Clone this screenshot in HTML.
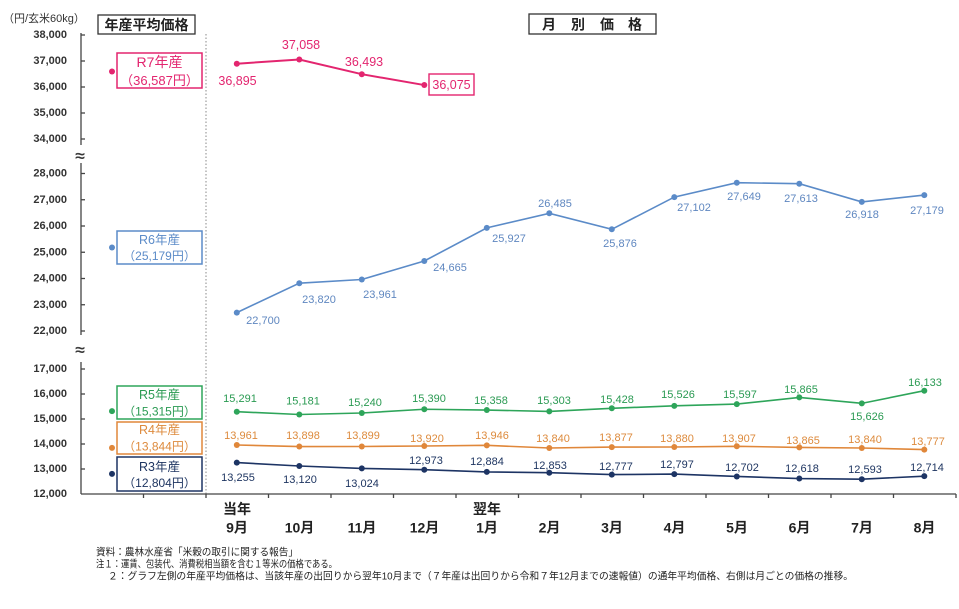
<!DOCTYPE html>
<html><head><meta charset="utf-8"><style>
html,body{margin:0;padding:0;background:#fff;}
svg{display:block;}
text{font-family:"Liberation Sans","Noto Sans CJK JP",sans-serif;}
</style></head><body>
<svg width="959" height="609" viewBox="0 0 959 609" xmlns="http://www.w3.org/2000/svg">
<rect width="959" height="609" fill="#fff"/>

<!-- header -->
<text x="3" y="19" font-size="11" fill="#333" dominant-baseline="central">（円/玄米60kg）</text>
<rect x="98" y="15" width="97" height="19" fill="#fff" stroke="#333" stroke-width="1.3"/>
<text x="146.5" y="25" font-size="14" font-weight="bold" fill="#222" text-anchor="middle" dominant-baseline="central">年産平均価格</text>
<rect x="529" y="14" width="127" height="20" fill="#fff" stroke="#333" stroke-width="1.3"/>
<g font-size="14" font-weight="bold" fill="#222" text-anchor="middle" dominant-baseline="central">
<text x="549" y="24.5">月</text><text x="578" y="24.5">別</text><text x="607" y="24.5">価</text><text x="635" y="24.5">格</text>
</g>

<!-- dotted divider -->
<line x1="206" y1="34" x2="206" y2="494" stroke="#888" stroke-width="1" stroke-dasharray="1.5 2"/>

<!-- y axis -->
<g stroke="#444" stroke-width="1.3">
<line x1="81" y1="33" x2="81" y2="145"/>
<line x1="81" y1="163" x2="81" y2="335"/>
<line x1="81" y1="362" x2="81" y2="494"/>
<line x1="81" y1="35" x2="85" y2="35"/><line x1="81" y1="61" x2="85" y2="61"/><line x1="81" y1="87" x2="85" y2="87"/><line x1="81" y1="113" x2="85" y2="113"/><line x1="81" y1="139" x2="85" y2="139"/>
<line x1="81" y1="173.5" x2="85" y2="173.5"/><line x1="81" y1="199.75" x2="85" y2="199.75"/><line x1="81" y1="226" x2="85" y2="226"/><line x1="81" y1="252.25" x2="85" y2="252.25"/><line x1="81" y1="278.5" x2="85" y2="278.5"/><line x1="81" y1="304.75" x2="85" y2="304.75"/><line x1="81" y1="331" x2="85" y2="331"/>
<line x1="81" y1="369" x2="85" y2="369"/><line x1="81" y1="394" x2="85" y2="394"/><line x1="81" y1="419" x2="85" y2="419"/><line x1="81" y1="444" x2="85" y2="444"/><line x1="81" y1="469" x2="85" y2="469"/>
<!-- x axis -->
<line x1="81" y1="494" x2="956" y2="494"/>
<line x1="143.5" y1="494" x2="143.5" y2="498"/><line x1="206" y1="494" x2="206" y2="498"/><line x1="268.5" y1="494" x2="268.5" y2="498"/><line x1="331" y1="494" x2="331" y2="498"/><line x1="393.5" y1="494" x2="393.5" y2="498"/><line x1="456" y1="494" x2="456" y2="498"/><line x1="518.5" y1="494" x2="518.5" y2="498"/><line x1="581" y1="494" x2="581" y2="498"/><line x1="643.5" y1="494" x2="643.5" y2="498"/><line x1="706" y1="494" x2="706" y2="498"/><line x1="768.5" y1="494" x2="768.5" y2="498"/><line x1="831" y1="494" x2="831" y2="498"/><line x1="893.5" y1="494" x2="893.5" y2="498"/><line x1="956" y1="494" x2="956" y2="498"/>
</g>
<g font-size="17" fill="#333" text-anchor="middle" dominant-baseline="central" stroke="#333" stroke-width="0.4">
<text x="80" y="156">≈</text>
<text x="80" y="350">≈</text>
</g>

<!-- y tick labels -->
<g font-size="11" font-weight="bold" fill="#333" text-anchor="end" dominant-baseline="central">
<text x="67" y="35">38,000</text><text x="67" y="61">37,000</text><text x="67" y="87">36,000</text><text x="67" y="113">35,000</text><text x="67" y="139">34,000</text>
<text x="67" y="173.5">28,000</text><text x="67" y="199.75">27,000</text><text x="67" y="226">26,000</text><text x="67" y="252.25">25,000</text><text x="67" y="278.5">24,000</text><text x="67" y="304.75">23,000</text><text x="67" y="331">22,000</text>
<text x="67" y="369">17,000</text><text x="67" y="394">16,000</text><text x="67" y="419">15,000</text><text x="67" y="444">14,000</text><text x="67" y="469">13,000</text><text x="67" y="494">12,000</text>
</g>

<!-- x labels -->
<g font-size="14" font-weight="bold" fill="#222" text-anchor="middle" dominant-baseline="central">
<text x="237" y="509">当年</text>
<text x="487" y="509">翌年</text>
<text x="237" y="527.5">9月</text><text x="299.5" y="527.5">10月</text><text x="362" y="527.5">11月</text><text x="424.5" y="527.5">12月</text><text x="487" y="527.5">1月</text><text x="549.5" y="527.5">2月</text><text x="612" y="527.5">3月</text><text x="674.5" y="527.5">4月</text><text x="737" y="527.5">5月</text><text x="799.5" y="527.5">6月</text><text x="862" y="527.5">7月</text><text x="924.5" y="527.5">8月</text>
</g>

<!-- annual boxes -->
<rect x="117" y="53" width="85" height="35" fill="#fff" stroke="#e3256f" stroke-width="1.5"/>
<text x="159.5" y="62" font-size="14" fill="#e3256f" text-anchor="middle" dominant-baseline="central">R7年産</text>
<text x="159.5" y="80.5" font-size="13" fill="#e3256f" text-anchor="middle" dominant-baseline="central">（36,587円）</text>
<circle cx="112" cy="71.5" r="3" fill="#e3256f"/>

<rect x="117" y="231" width="85" height="33" fill="#fff" stroke="#5b8bc8" stroke-width="1.5"/>
<text x="159.5" y="240" font-size="12.5" fill="#5b8bc8" text-anchor="middle" dominant-baseline="central">R6年産</text>
<text x="159.5" y="256" font-size="12" fill="#5b8bc8" text-anchor="middle" dominant-baseline="central">（25,179円）</text>
<circle cx="112" cy="247.5" r="3" fill="#5b8bc8"/>

<rect x="117" y="386" width="85" height="33" fill="#fff" stroke="#2ea55a" stroke-width="1.5"/>
<text x="159.5" y="395" font-size="12.5" fill="#2a9a52" text-anchor="middle" dominant-baseline="central">R5年産</text>
<text x="159.5" y="411.5" font-size="12" fill="#2a9a52" text-anchor="middle" dominant-baseline="central">（15,315円）</text>
<circle cx="112" cy="411.1" r="3" fill="#2ea55a"/>

<rect x="117" y="422" width="85" height="32" fill="#fff" stroke="#e0873a" stroke-width="1.5"/>
<text x="159.5" y="430" font-size="12.5" fill="#dd8a3c" text-anchor="middle" dominant-baseline="central">R4年産</text>
<text x="159.5" y="446.5" font-size="12" fill="#dd8a3c" text-anchor="middle" dominant-baseline="central">（13,844円）</text>
<circle cx="112" cy="447.9" r="3" fill="#e0873a"/>

<rect x="117" y="457" width="85" height="34" fill="#fff" stroke="#1d3464" stroke-width="1.5"/>
<text x="159.5" y="467" font-size="12.5" fill="#1e3561" text-anchor="middle" dominant-baseline="central">R3年産</text>
<text x="159.5" y="483" font-size="12" fill="#1e3561" text-anchor="middle" dominant-baseline="central">（12,804円）</text>
<circle cx="112" cy="473.9" r="3" fill="#1d3464"/>

<!-- R7 -->
<polyline fill="none" stroke="#e3256f" stroke-width="2" points="236.8,63.7 299.3,59.5 361.8,74.2 424.3,85.05"/>
<g fill="#e3256f"><circle cx="236.8" cy="63.7" r="3"/><circle cx="299.3" cy="59.5" r="3"/><circle cx="361.8" cy="74.2" r="3"/><circle cx="424.3" cy="85.05" r="3"/></g>
<g font-size="12.5" fill="#e3256f" text-anchor="middle" dominant-baseline="central">
<text x="237.5" y="81">36,895</text><text x="301" y="45">37,058</text><text x="364" y="62">36,493</text>
</g>
<rect x="429" y="74" width="45" height="21" fill="#fff" stroke="#e3256f" stroke-width="1.4"/>
<text x="451.5" y="85" font-size="12.5" fill="#e3256f" text-anchor="middle" dominant-baseline="central">36,075</text>

<!-- R6 -->
<polyline fill="none" stroke="#5b8bc8" stroke-width="1.6" points="236.8,312.6 299.3,283.2 361.8,279.5 424.3,261 486.8,227.9 549.3,213.3 611.8,229.3 674.3,197.1 736.8,182.7 799.3,183.7 861.8,201.9 924.3,195.1"/>
<g fill="#5b8bc8"><circle cx="236.8" cy="312.6" r="3"/><circle cx="299.3" cy="283.2" r="3"/><circle cx="361.8" cy="279.5" r="3"/><circle cx="424.3" cy="261" r="3"/><circle cx="486.8" cy="227.9" r="3"/><circle cx="549.3" cy="213.3" r="3"/><circle cx="611.8" cy="229.3" r="3"/><circle cx="674.3" cy="197.1" r="3"/><circle cx="736.8" cy="182.7" r="3"/><circle cx="799.3" cy="183.7" r="3"/><circle cx="861.8" cy="201.9" r="3"/><circle cx="924.3" cy="195.1" r="3"/></g>
<g font-size="11" fill="#5f87c0" text-anchor="middle" dominant-baseline="central">
<text x="263" y="321">22,700</text><text x="319" y="300">23,820</text><text x="380" y="295">23,961</text><text x="450" y="268">24,665</text><text x="509" y="239">25,927</text><text x="555" y="204">26,485</text><text x="620" y="244">25,876</text><text x="694" y="208">27,102</text><text x="744" y="197">27,649</text><text x="801" y="199">27,613</text><text x="862" y="215">26,918</text><text x="927" y="211">27,179</text>
</g>

<!-- R5 -->
<polyline fill="none" stroke="#2ea55a" stroke-width="1.6" points="236.8,411.7 299.3,414.5 361.8,413 424.3,409.25 486.8,410.05 549.3,411.4 611.8,408.3 674.3,405.85 736.8,404.1 799.3,397.4 861.8,403.35 924.3,390.7"/>
<g fill="#2ea55a"><circle cx="236.8" cy="411.7" r="3"/><circle cx="299.3" cy="414.5" r="3"/><circle cx="361.8" cy="413" r="3"/><circle cx="424.3" cy="409.25" r="3"/><circle cx="486.8" cy="410.05" r="3"/><circle cx="549.3" cy="411.4" r="3"/><circle cx="611.8" cy="408.3" r="3"/><circle cx="674.3" cy="405.85" r="3"/><circle cx="736.8" cy="404.1" r="3"/><circle cx="799.3" cy="397.4" r="3"/><circle cx="861.8" cy="403.35" r="3"/><circle cx="924.3" cy="390.7" r="3"/></g>
<g font-size="11" fill="#2a9a52" text-anchor="middle" dominant-baseline="central">
<text x="240" y="399">15,291</text><text x="303" y="401.5">15,181</text><text x="365" y="403">15,240</text><text x="429" y="399">15,390</text><text x="491" y="401">15,358</text><text x="554" y="401">15,303</text><text x="617" y="400">15,428</text><text x="678" y="395">15,526</text><text x="740" y="395">15,597</text><text x="801" y="390">15,865</text><text x="867" y="417">15,626</text><text x="925" y="383">16,133</text>
</g>

<!-- R4 -->
<polyline fill="none" stroke="#e0873a" stroke-width="1.6" points="236.8,445 299.3,446.55 361.8,446.5 424.3,446 486.8,445.35 549.3,448 611.8,447.1 674.3,447 736.8,446.3 799.3,447.4 861.8,448 924.3,449.6"/>
<g fill="#e0873a"><circle cx="236.8" cy="445" r="3"/><circle cx="299.3" cy="446.55" r="3"/><circle cx="361.8" cy="446.5" r="3"/><circle cx="424.3" cy="446" r="3"/><circle cx="486.8" cy="445.35" r="3"/><circle cx="549.3" cy="448" r="3"/><circle cx="611.8" cy="447.1" r="3"/><circle cx="674.3" cy="447" r="3"/><circle cx="736.8" cy="446.3" r="3"/><circle cx="799.3" cy="447.4" r="3"/><circle cx="861.8" cy="448" r="3"/><circle cx="924.3" cy="449.6" r="3"/></g>
<g font-size="11" fill="#dd8a3c" text-anchor="middle" dominant-baseline="central">
<text x="241" y="436">13,961</text><text x="303" y="436">13,898</text><text x="363" y="436">13,899</text><text x="427" y="439">13,920</text><text x="492" y="436">13,946</text><text x="553" y="439">13,840</text><text x="616" y="438">13,877</text><text x="677" y="439">13,880</text><text x="739" y="439">13,907</text><text x="803" y="441">13,865</text><text x="865" y="440">13,840</text><text x="928" y="442">13,777</text>
</g>

<!-- R3 -->
<polyline fill="none" stroke="#1d3464" stroke-width="1.6" points="236.8,462.6 299.3,466 361.8,468.4 424.3,469.7 486.8,471.9 549.3,472.7 611.8,474.6 674.3,474.1 736.8,476.45 799.3,478.55 861.8,479.2 924.3,476.15"/>
<g fill="#1d3464"><circle cx="236.8" cy="462.6" r="3"/><circle cx="299.3" cy="466" r="3"/><circle cx="361.8" cy="468.4" r="3"/><circle cx="424.3" cy="469.7" r="3"/><circle cx="486.8" cy="471.9" r="3"/><circle cx="549.3" cy="472.7" r="3"/><circle cx="611.8" cy="474.6" r="3"/><circle cx="674.3" cy="474.1" r="3"/><circle cx="736.8" cy="476.45" r="3"/><circle cx="799.3" cy="478.55" r="3"/><circle cx="861.8" cy="479.2" r="3"/><circle cx="924.3" cy="476.15" r="3"/></g>
<g font-size="11" fill="#1e3561" text-anchor="middle" dominant-baseline="central">
<text x="238" y="478">13,255</text><text x="300" y="480">13,120</text><text x="362" y="484">13,024</text><text x="426" y="461">12,973</text><text x="487" y="462">12,884</text><text x="550" y="466">12,853</text><text x="616" y="467">12,777</text><text x="677" y="465">12,797</text><text x="742" y="468">12,702</text><text x="802" y="469">12,618</text><text x="865" y="470">12,593</text><text x="927" y="468">12,714</text>
</g>

<!-- footnotes -->
<g font-size="10" fill="#222" dominant-baseline="central">
<text x="96" y="553" textLength="202" lengthAdjust="spacingAndGlyphs">資料：農林水産省「米穀の取引に関する報告」</text>
<text x="96" y="565" textLength="241" lengthAdjust="spacingAndGlyphs">注１：運賃、包装代、消費税相当額を含む１等米の価格である。</text>
<text x="108" y="577" textLength="745" lengthAdjust="spacingAndGlyphs">２：グラフ左側の年産平均価格は、当該年産の出回りから翌年10月まで（７年産は出回りから令和７年12月までの速報値）の通年平均価格、右側は月ごとの価格の推移。</text>
</g>
</svg>
</body></html>
